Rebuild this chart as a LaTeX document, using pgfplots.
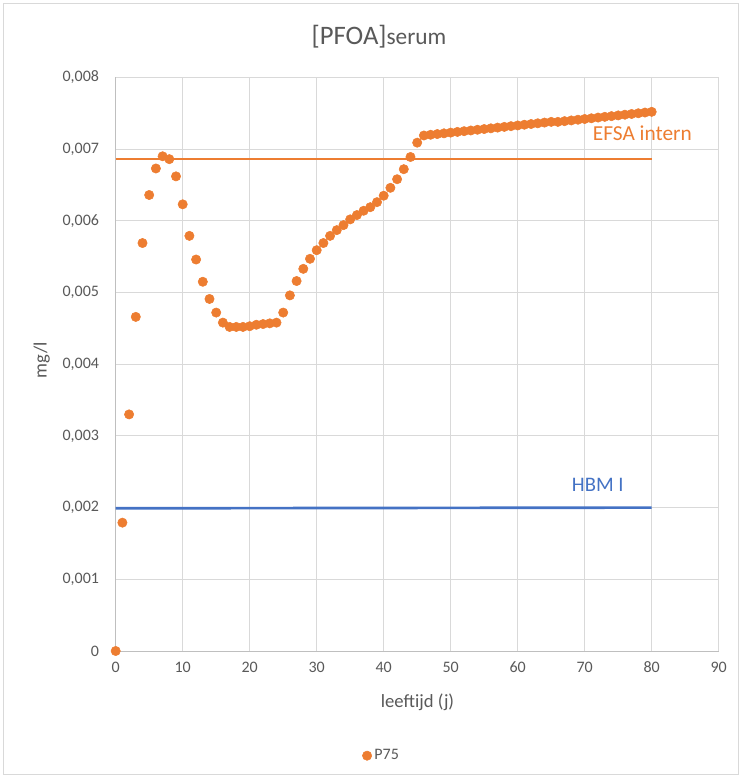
\documentclass[border=0pt]{standalone}
\usepackage{pgfplots}
\pgfplotsset{compat=1.18}
\usepackage{fontspec}
\setmainfont{Carlito}
\definecolor{xlorange}{HTML}{ED7D31}
\definecolor{xlblue}{HTML}{4472C4}
\definecolor{xltext}{HTML}{595959}
\definecolor{xlgrid}{HTML}{D9D9D9}
\definecolor{xlaxis}{HTML}{BFBFBF}
\begin{document}
\begin{tikzpicture}
\useasboundingbox (-86.775pt,-95.25pt) rectangle (469.725pt,488.25pt);
\draw[xlgrid, line width=0.75pt] (-83.775pt,-92.25pt) rectangle (466.725pt,485.25pt);
\begin{axis}[
  at={(0,0)}, anchor=south west,
  scale only axis, width=452.25pt, height=430.2pt,
  xmin=0, xmax=90, ymin=0, ymax=0.008,
  xtick={0,10,...,90},
  ytick={0,0.001,0.002,0.003,0.004,0.005,0.006,0.007,0.008},
  yticklabels={0,{0,001},{0,002},{0,003},{0,004},{0,005},{0,006},{0,007},{0,008}},
  scaled y ticks=false,
  /pgf/number format/assume math mode=true,
  tick style={draw=none},
  grid=major,
  major grid style={xlgrid, line width=0.75pt},
  axis line style={draw=none},
  ticklabel style={font=\fontsize{12}{14}\selectfont, text=xltext},
  xticklabel style={anchor=center, yshift=-12pt},
  yticklabel style={anchor=east, inner sep=0pt, xshift=-12.3pt},
  xlabel={leeftijd (j)},
  ylabel={mg/l},
  label style={font=\fontsize{14}{16}\selectfont, text=xltext},
  xlabel style={at={(axis description cs:0.5005,-0.0889)}, anchor=center},
  ylabel style={at={(axis description cs:-0.1227,0.507)}, anchor=center},
  clip=false,
  legend style={at={(0.4416,-0.1825)}, anchor=center, draw=none, fill=none,
    font=\fontsize{12}{14}\selectfont, text=xltext, inner sep=0pt},
  legend image code/.code={\draw[mark repeat=2,mark phase=2] plot coordinates {(0cm,0cm) (0.15cm,0cm) (0.3cm,0cm)};},
]
\draw[xlaxis, line width=0.75pt] (rel axis cs:0,0) -- (rel axis cs:1,0);
\draw[xlaxis, line width=0.75pt] (rel axis cs:0,0) -- (rel axis cs:0,1);
\addplot[xlorange, line width=2pt, no marks, forget plot] coordinates {(0,0.00686) (80,0.00686)};
\addplot[xlblue, line width=2pt, no marks, forget plot] coordinates {(0,0.00199) (80,0.00200)};
\addplot[only marks, mark=*, mark size=3.5pt, mark options={draw=xlorange, fill=xlorange}] coordinates {
(0,0) (1,0.00179) (2,0.00330) (3,0.00466) (4,0.00569) (5,0.00636) (6,0.00673) (7,0.00690) (8,0.00686) (9,0.00662)
(10,0.00623) (11,0.00579) (12,0.00546) (13,0.00515) (14,0.00491) (15,0.00472) (16,0.00458) (17,0.00452) (18,0.00452) (19,0.00452)
(20,0.00453) (21,0.00455) (22,0.00456) (23,0.00457) (24,0.00458) (25,0.00472) (26,0.00496) (27,0.00516) (28,0.00533) (29,0.00547)
(30,0.00559) (31,0.00569) (32,0.00579) (33,0.00587) (34,0.00594) (35,0.00602) (36,0.00608) (37,0.00614) (38,0.00619) (39,0.00626)
(40,0.00635) (41,0.00646) (42,0.00658) (43,0.00672) (44,0.00689) (45,0.00709) (46,0.00719) (47,0.00720) (48,0.00721) (49,0.00722)
(50,0.00723) (51,0.00724) (52,0.00725) (53,0.00726) (54,0.00727) (55,0.00728) (56,0.00729) (57,0.00730) (58,0.00731) (59,0.00732)
(60,0.00733) (61,0.00734) (62,0.00735) (63,0.00736) (64,0.00737) (65,0.00738) (66,0.00738) (67,0.00739) (68,0.00740) (69,0.00741)
(70,0.00742) (71,0.00743) (72,0.00744) (73,0.00745) (74,0.00746) (75,0.00747) (76,0.00748) (77,0.00749) (78,0.00750) (79,0.00751)
(80,0.00752)};
\addlegendentry{P75}
\node[anchor=base west, inner sep=0pt, text=xlorange, font=\fontsize{16}{18}\selectfont] at (axis cs:71.2,0.007127) {EFSA intern};
\node[anchor=base west, inner sep=0pt, text=xlblue, font=\fontsize{15.5}{18}\selectfont] at (axis cs:68.06,0.002222) {HBM I};
\node[anchor=center, text=xltext, inner sep=0pt] at (rel axis cs:0.4367,1) [yshift=30.5pt] {\fontsize{20}{22}\selectfont[PFOA]\fontsize{17.5}{20}\selectfont serum};
\end{axis}
\end{tikzpicture}
\end{document}
